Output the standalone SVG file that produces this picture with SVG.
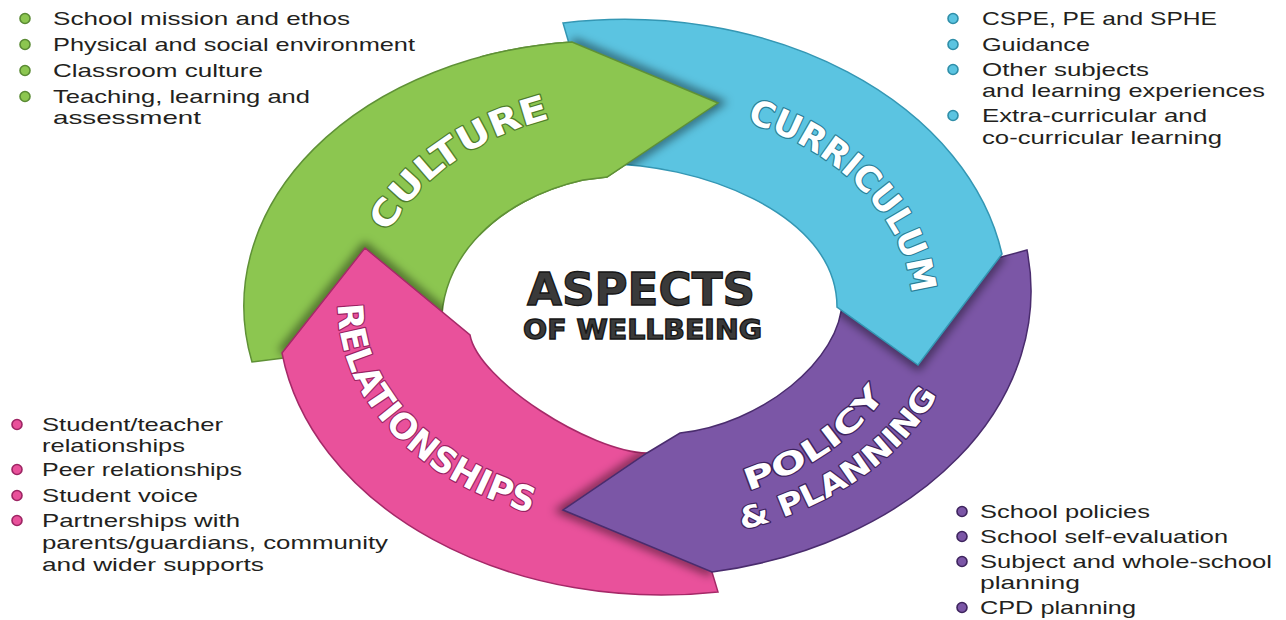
<svg xmlns="http://www.w3.org/2000/svg" width="1286" height="620" viewBox="0 0 1286 620">
<defs>
<style>
.lst{font-family:"Liberation Sans",Arial,sans-serif;font-size:19px;fill:#231f20}
.lbl{font-family:"DejaVu Sans",sans-serif;font-weight:bold;fill:#ffffff;stroke-width:2.4;paint-order:stroke;stroke-linejoin:round}
.ttl{font-family:"DejaVu Sans",sans-serif;font-weight:bold;fill:#3a3a3a;stroke:#161616;stroke-width:1.3}
.shd{fill:none;stroke:#000;stroke-opacity:.5;stroke-width:9;filter:url(#blur)}
.bg{fill:#8cc650;stroke:#5f9136;stroke-width:1.5}
.bb{fill:#5bc4e1;stroke:#3497b4;stroke-width:1.5}
.bp{fill:#7b56a6;stroke:#4a2c6e;stroke-width:1.5}
.bk{fill:#e9519b;stroke:#a52968;stroke-width:1.5}
.dg{fill:#8cc650;stroke:#5a8a34;stroke-width:1.6}
.db{fill:#5bc4e1;stroke:#2f8ea8;stroke-width:1.6}
.dp{fill:#7b56a6;stroke:#3e245e;stroke-width:1.6}
.dk{fill:#e9519b;stroke:#9d2563;stroke-width:1.6}
</style>
<filter id="blur" x="-30%" y="-30%" width="160%" height="160%"><feGaussianBlur stdDeviation="5"/></filter>
<path id="bandG" d="M252,362 A360,265 0 0 1 572,42 L718,103 L607,177 L583,180 A198,148 0 0 0 443,338 Z"/>
<path id="bandB" d="M563,23 A382.6,281.3 0 0 1 1002,254 L918,365 L837,307 C837,212 695,162 600,164 L568,40 Z"/>
<path id="bandP" d="M1027,250 A388,285.5 0 0 1 712,572 L563,510 L647,453 L680,433 C760,425 842,360 842,300 Z"/>
<path id="bandK" d="M718,592 A383.5,282 0 0 1 282,353 L365,248 L470,335 C478,380 590,452 647,453 L712,572 Z"/>
<clipPath id="clipG"><use href="#bandG"/></clipPath>
<clipPath id="clipB"><use href="#bandB"/></clipPath>
<clipPath id="clipP"><use href="#bandP"/></clipPath>
<clipPath id="clipK"><use href="#bandK"/></clipPath>
<clipPath id="clipHead"><rect x="480" y="0" width="320" height="240"/></clipPath>
<path id="tpCul" d="M369.7,297.3 A270.6,199 0 0 1 651.8,107.2"/>
<path id="tpCur" d="M663.7,106.8 A272,200 0 0 1 907.9,340.7"/>
<path id="tpRel" d="M342.7,267.5 A301.9,222 0 0 0 608.4,526.8"/>
<path id="tpPol" d="M663.8,506.2 A273.4,201 0 0 0 912.4,323.5"/>
<path id="tpPla" d="M651.2,541.9 A321,236 0 0 0 959.8,326.6"/>
</defs>
<rect width="1286" height="620" fill="#ffffff"/>

<g id="ring">
<g id="culture-band"><use href="#bandG" class="bg"/></g>
<g id="relationships-band">
<path class="shd" clip-path="url(#clipG)" d="M282,353 L365,248 L470,335"/>
<use href="#bandK" class="bk"/>
</g>
<g id="policy-band">
<path class="shd" clip-path="url(#clipK)" d="M712,572 L563,510 L647,453"/>
<use href="#bandP" class="bp"/>
</g>
<g id="curriculum-band">
<path class="shd" clip-path="url(#clipP)" d="M1002,254 L918,365 L837,307"/>
<use href="#bandB" class="bb"/>
</g>
<g id="culture-head">
<path class="shd" clip-path="url(#clipB)" d="M572,42 L718,103 L607,177"/>
<use href="#bandG" class="bg" clip-path="url(#clipHead)"/>
</g>
</g>

<g id="labels">
<text class="lbl" font-size="35" stroke="#4f7d2a" text-anchor="middle"><textPath href="#tpCul" startOffset="169.4" textLength="204" lengthAdjust="spacingAndGlyphs">CULTURE</textPath></text>
<text class="lbl" font-size="35" stroke="#2a7f98" text-anchor="middle"><textPath href="#tpCur" startOffset="210.6" textLength="252" lengthAdjust="spacingAndGlyphs">CURRICULUM</textPath></text>
<text class="lbl" font-size="35" stroke="#9a2262" text-anchor="middle"><textPath href="#tpRel" startOffset="189.7" textLength="305" lengthAdjust="spacingAndGlyphs">RELATIONSHIPS</textPath></text>
<text class="lbl" font-size="30" stroke="#3e235e" text-anchor="middle"><textPath href="#tpPol" startOffset="171" textLength="170" lengthAdjust="spacingAndGlyphs">POLICY</textPath><textPath href="#tpPla" startOffset="214" textLength="244" lengthAdjust="spacingAndGlyphs">&amp; PLANNING</textPath></text>
</g>

<g id="title">
<text class="ttl" x="527" y="305" font-size="44" textLength="228" lengthAdjust="spacingAndGlyphs">ASPECTS</text>
<text class="ttl" x="523" y="339" font-size="26" textLength="239" lengthAdjust="spacingAndGlyphs">OF WELLBEING</text>
</g>

<g id="culture-list">
<circle class="dg" cx="25" cy="18.5" r="5"/>
<circle class="dg" cx="25" cy="44.5" r="5"/>
<circle class="dg" cx="25" cy="70.5" r="5"/>
<circle class="dg" cx="25" cy="96.5" r="5"/>
<text class="lst" x="53" y="25" textLength="297" lengthAdjust="spacingAndGlyphs">School mission and ethos</text>
<text class="lst" x="53" y="51" textLength="362" lengthAdjust="spacingAndGlyphs">Physical and social environment</text>
<text class="lst" x="53" y="77" textLength="210" lengthAdjust="spacingAndGlyphs">Classroom culture</text>
<text class="lst" x="53" y="102.5" textLength="257" lengthAdjust="spacingAndGlyphs">Teaching, learning and</text>
<text class="lst" x="53" y="123.5" textLength="148" lengthAdjust="spacingAndGlyphs">assessment</text>
</g>

<g id="curriculum-list">
<circle class="db" cx="953" cy="18.5" r="5"/>
<circle class="db" cx="953" cy="44.5" r="5"/>
<circle class="db" cx="953" cy="69.5" r="5"/>
<circle class="db" cx="953" cy="115.5" r="5"/>
<text class="lst" x="982" y="25" textLength="235" lengthAdjust="spacingAndGlyphs">CSPE, PE and SPHE</text>
<text class="lst" x="982" y="51" textLength="108" lengthAdjust="spacingAndGlyphs">Guidance</text>
<text class="lst" x="982" y="76" textLength="167" lengthAdjust="spacingAndGlyphs">Other subjects</text>
<text class="lst" x="982" y="97" textLength="283" lengthAdjust="spacingAndGlyphs">and learning experiences</text>
<text class="lst" x="982" y="122" textLength="225" lengthAdjust="spacingAndGlyphs">Extra-curricular and</text>
<text class="lst" x="982" y="143.5" textLength="240" lengthAdjust="spacingAndGlyphs">co-curricular learning</text>
</g>

<g id="relationships-list">
<circle class="dk" cx="17" cy="424.5" r="5"/>
<circle class="dk" cx="17" cy="469.5" r="5"/>
<circle class="dk" cx="17" cy="495.5" r="5"/>
<circle class="dk" cx="17" cy="520.5" r="5"/>
<text class="lst" x="42" y="431" textLength="181" lengthAdjust="spacingAndGlyphs">Student/teacher</text>
<text class="lst" x="42" y="452" textLength="143" lengthAdjust="spacingAndGlyphs">relationships</text>
<text class="lst" x="42" y="476" textLength="200" lengthAdjust="spacingAndGlyphs">Peer relationships</text>
<text class="lst" x="42" y="502" textLength="156" lengthAdjust="spacingAndGlyphs">Student voice</text>
<text class="lst" x="42" y="527" textLength="198" lengthAdjust="spacingAndGlyphs">Partnerships with</text>
<text class="lst" x="42" y="549" textLength="346" lengthAdjust="spacingAndGlyphs">parents/guardians, community</text>
<text class="lst" x="42" y="571" textLength="222" lengthAdjust="spacingAndGlyphs">and wider supports</text>
</g>

<g id="policy-list">
<circle class="dp" cx="962" cy="511.5" r="5"/>
<circle class="dp" cx="962" cy="536.5" r="5"/>
<circle class="dp" cx="962" cy="561.5" r="5"/>
<circle class="dp" cx="962" cy="607.5" r="5"/>
<text class="lst" x="980" y="518" textLength="170" lengthAdjust="spacingAndGlyphs">School policies</text>
<text class="lst" x="980" y="543" textLength="248" lengthAdjust="spacingAndGlyphs">School self-evaluation</text>
<text class="lst" x="980" y="568" textLength="292" lengthAdjust="spacingAndGlyphs">Subject and whole-school</text>
<text class="lst" x="980" y="589" textLength="100" lengthAdjust="spacingAndGlyphs">planning</text>
<text class="lst" x="980" y="614" textLength="156" lengthAdjust="spacingAndGlyphs">CPD planning</text>
</g>
</svg>
